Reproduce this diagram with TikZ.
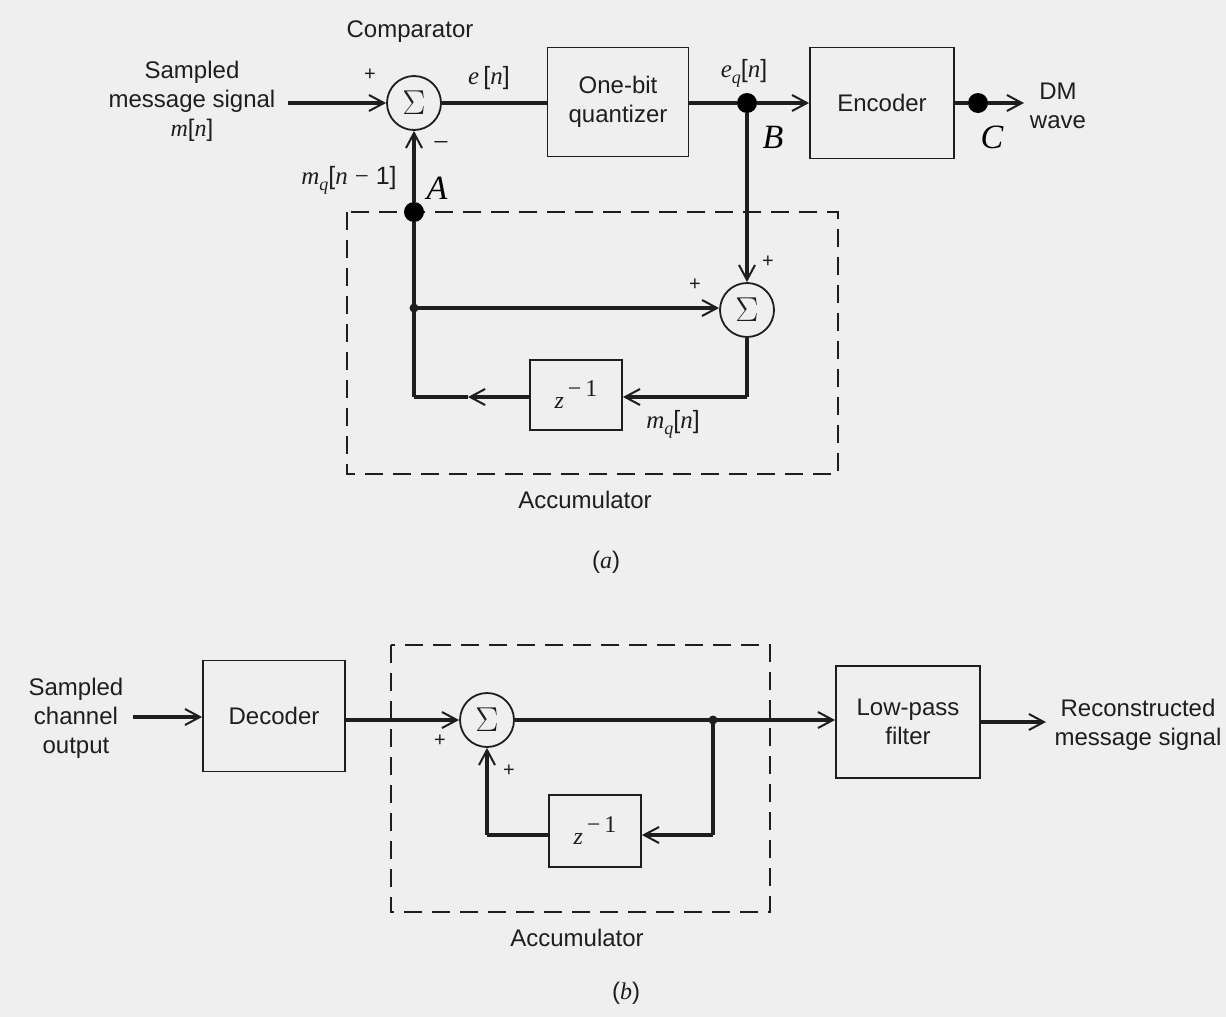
\documentclass[tikz,border=0pt]{standalone}
\usepackage{fontspec}
\setmainfont{Liberation Sans}
\newfontfamily\tms{Liberation Serif}
\usetikzlibrary{arrows.meta}
\definecolor{paper}{RGB}{239,239,239}
\definecolor{ink}{RGB}{30,30,30}
% italic serif variable names
\newcommand\vi[1]{{\tms\itshape #1}}
\newcommand\vsub[2]{\vi{#1}\raisebox{-3pt}{\fontsize{9}{10}\selectfont\vi{#2}}}
\newcommand\mns{{\tms\char"2212}}
\newcommand\zinv{\vi{z}\raisebox{6pt}{\fontsize{12}{12}\selectfont\tms\,\char"2212\,1}}
\begin{document}
\begin{tikzpicture}[x=0.5pt,y=-0.5pt,
  font=\fontsize{12}{14.5}\selectfont,
  every node/.style={text=ink},
  blk/.style={draw=ink, line width=0.9pt, inner sep=0pt, align=center},
  sumnode/.style={draw=ink, circle, line width=0.9pt, minimum size=27pt, inner sep=0pt, font=\fontsize{18}{18}\selectfont},
  wire/.style={draw=ink, line width=1.6pt},
  arr/.style={wire, -{Straight Barb[length=7.5pt,width=8pt,line width=1pt]}},
  dot/.style={circle, fill=black, minimum size=10pt, inner sep=0pt},
  smalldot/.style={circle, fill=ink, minimum size=4.5pt, inner sep=0pt},
  accbox/.style={draw=ink, line width=0.8pt, dash pattern=on 9pt off 5pt},
  sgn/.style={font=\fontsize{10}{12}\selectfont},
  pt/.style={font=\fontsize{17}{18}\selectfont\tms\itshape, text=black},
  mlabel/.style={font=\fontsize{12.5}{14}\selectfont}]

% paper
\fill[paper] (0,0) rectangle (1226,1017);
\useasboundingbox (0,0) rectangle (1226,1017);

% accumulator frames (drawn first, under the wires)
\draw[accbox] (347,212) rectangle (838,474);
\draw[accbox] (391,645) rectangle (770,912);

% ---------------- (a) delta modulator ----------------
\node (cmp) at (410,32) {Comparator};
\node[align=center] (msg) at (192,101) {Sampled\\message signal\\\vi{m}[\vi{n}]};
\coordinate (inA) at (288,103);
\node[sumnode] (s1) at (414,103) {$\Sigma$};
\node[blk, minimum width=70.5pt, minimum height=54.5pt] (q) at (618,102) {One-bit\\quantizer};
\node[blk, minimum width=72pt, minimum height=55.5pt] (enc) at (882,103) {Encoder};
\node[dot] (B) at (747,103) {};
\node[dot] (C) at (978,103) {};
\node[align=center] (dm) at (1058,106) {DM\\wave};
\coordinate (dmin) at (1024,103);

\node[dot] (A) at (414,212) {};
\coordinate (j1) at (414,308);
\node[smalldot] at (j1) {};
\coordinate (c1) at (414,397);
\node[sumnode] (s2) at (747,310) {$\Sigma$};
\coordinate (c2) at (747,397);
\node[blk, minimum width=46pt, minimum height=35pt] (z1) at (576,395) {\zinv};
\coordinate (m1) at (468,397);

% connectors (a)
\draw[arr] (inA) -- (s1.west);
\draw[wire] (s1.east) -- (q.west |- s1.east);
\draw[wire] (q.east |- B) -- (B);
\draw[arr] (B) -- (enc.west |- B);
\draw[wire] (enc.east |- C) -- (C);
\draw[arr] (C) -- (dmin);
\draw[arr] (A) -- (s1.south);
\draw[wire] (A) -- (c1);
\draw[arr] (j1) -- (s2.west |- j1);
\draw[arr] (B) -- (s2.north);
\draw[wire] (s2.south) -- (c2);
\draw[arr] (c2) -- (z1.east |- c2);
\draw[arr] (z1.west |- c2) -- (m1);
\draw[wire] (m1) -- (c1);

% labels (a)
\node[sgn] at (370,75) {+};
\node[font=\fontsize{14}{14}\selectfont] at (441,147) {\mns};
\node[mlabel] at (489,78) {\vi{e}\,[\vi{n}]};
\node[mlabel] at (744,73) {\vsub{e}{q}[\vi{n}]};
\node[mlabel] at (349,180) {\vsub{m}{q}[\vi{n} \mns\ 1]};
\node[pt] at (437,188) {A};
\node[pt] at (773,137) {B};
\node[pt] at (992,137) {C};
\node[sgn] at (768,262) {+};
\node[sgn] at (695,285) {+};
\node[mlabel] at (673,424) {\vsub{m}{q}[\vi{n}]};
\node at (585,500) {Accumulator};
\node at (606,562) {(\vi{a})};

% ---------------- (b) delta demodulator ----------------
\node[align=center] (chin) at (76,718) {Sampled\\channel\\output};
\coordinate (chout) at (133,717);
\node[blk, minimum width=71pt, minimum height=55.5pt] (dec) at (274,716) {Decoder};
\node[sumnode] (s3) at (487,720) {$\Sigma$};
\coordinate (j2) at (713,720);
\node[smalldot] at (j2) {};
\coordinate (c3) at (713,835);
\node[blk, minimum width=46pt, minimum height=36pt] (z2) at (595,831) {\zinv};
\coordinate (c4) at (487,835);
\node[blk, minimum width=72pt, minimum height=56pt] (lpf) at (908,722) {Low-pass\\filter};
\node[align=center] (rec) at (1138,725) {Reconstructed\\message signal};
\coordinate (recin) at (1046,722);

% connectors (b)
\draw[arr] (chout) -- (dec.west |- chout);
\draw[arr] (dec.east |- s3.west) -- (s3.west);
\draw[wire] (s3.east) -- (j2);
\draw[arr] (j2) -- (lpf.west |- j2);
\draw[wire] (j2) -- (c3);
\draw[arr] (c3) -- (z2.east |- c3);
\draw[wire] (z2.west |- c4) -- (c4);
\draw[arr] (c4) -- (s3.south);
\draw[arr] (lpf.east |- recin) -- (recin);

% labels (b)
\node[sgn] at (440,741) {+};
\node[sgn] at (509,771) {+};
\node at (577,938) {Accumulator};
\node at (626,993) {(\vi{b})};
\end{tikzpicture}
\end{document}
